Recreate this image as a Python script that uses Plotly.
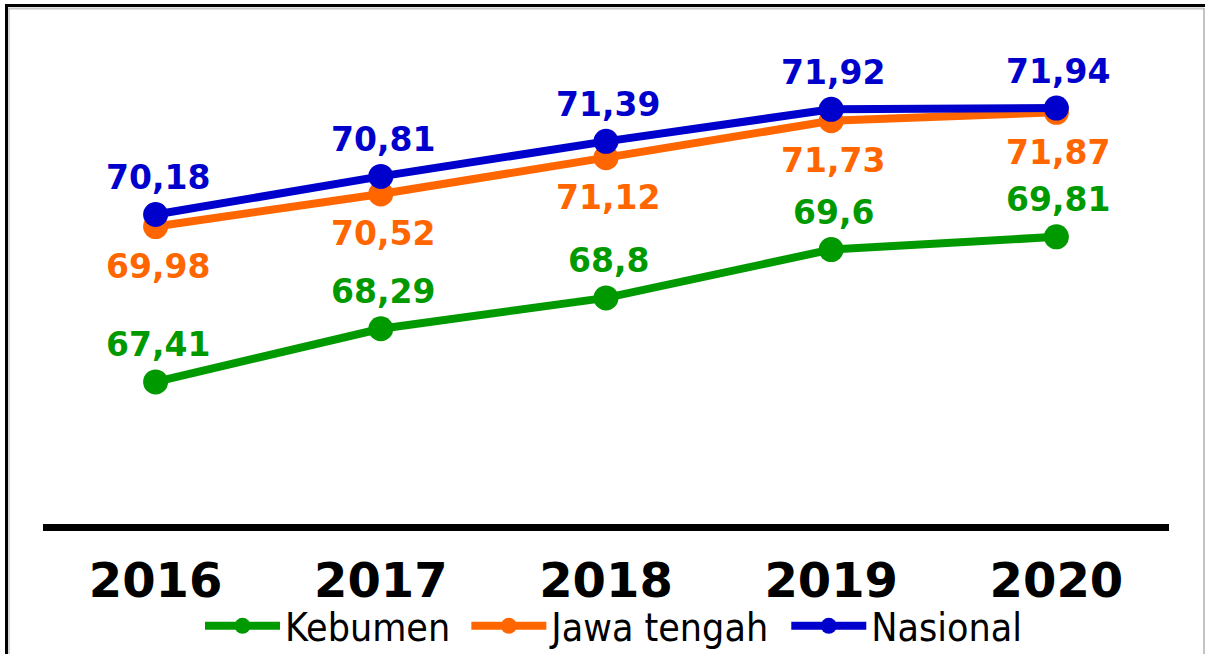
import plotly.graph_objects as go

years = ["2016", "2017", "2018", "2019", "2020"]
kebumen = [67.41, 68.29, 68.80, 69.60, 69.81]
jawa_tengah = [69.98, 70.52, 71.12, 71.73, 71.87]
nasional = [70.18, 70.81, 71.39, 71.92, 71.94]

series_names = ["Kebumen", "Jawa tengah", "Nasional"]
kebumen_labels = ["67,41", "68,29", "68,8", "69,6", "69,81"]
jawa_labels = ["69,98", "70,52", "71,12", "71,73", "71,87"]
nasional_labels = ["70,18", "70,81", "71,39", "71,92", "71,94"]

GREEN = "#009A00"
ORANGE = "#FF6600"
BLUE = "#0000CC"

W, H = 1205, 654
ML, MR, MT, MB = 43, 36, 44, 130
PW, PH = W - ML - MR, H - MT - MB

def px_x(x):
    return (x - ML) / PW

def px_y(y):
    return (H - MB - y) / PH

fig = go.Figure()
series = [
    (series_names[0], kebumen, GREEN),
    (series_names[1], jawa_tengah, ORANGE),
    (series_names[2], nasional, BLUE),
]
for k, (name, vals, col) in enumerate(series):
    # a non-breaking space widens the gap between legend entries
    legend_name = name + ("\u00a0" if k < len(series) - 1 else "")
    fig.add_trace(go.Scatter(
        x=years, y=vals, name=legend_name, mode="lines+markers",
        line=dict(color=col, width=8),
        marker=dict(color=col, size=25),
    ))

label_sets = [
    (kebumen, kebumen_labels, GREEN, 37),
    (jawa_tengah, jawa_labels, ORANGE, -40),
    (nasional, nasional_labels, BLUE, 37),
]
for vals, labs, col, shift in label_sets:
    for i, (v, t) in enumerate(zip(vals, labs)):
        fig.add_annotation(
            x=i, y=v, text=t, showarrow=False, xanchor="center", yanchor="middle",
            yshift=shift, xshift=2,
            font=dict(family="DejaVu Sans", size=33, color=col, weight="bold"),
        )

# outer frame
fig.add_shape(type="rect", xref="paper", yref="paper",
              x0=px_x(6.5), x1=px_x(1212), y0=px_y(5.5), y1=px_y(700),
              line=dict(color="black", width=3), layer="above")
fig.add_shape(type="line", xref="paper", yref="paper",
              x0=px_x(8), x1=px_x(1204), y0=px_y(8.5), y1=px_y(8.5),
              line=dict(color="#c8c8c8", width=2), layer="above")
fig.add_shape(type="line", xref="paper", yref="paper",
              x0=px_x(9), x1=px_x(9), y0=px_y(8), y1=px_y(660),
              line=dict(color="#c8c8c8", width=1.5), layer="above")
fig.add_shape(type="line", xref="paper", yref="paper",
              x0=px_x(1204), x1=px_x(1204), y0=px_y(8), y1=px_y(660),
              line=dict(color="#b0b0b0", width=1.5), layer="above")

fig.update_layout(
    width=W, height=H,
    margin=dict(l=ML, r=MR, t=MT, b=MB, autoexpand=False),
    paper_bgcolor="white", plot_bgcolor="white",
    showlegend=True,
    legend=dict(
        orientation="h", x=px_x(200), xanchor="left",
        y=px_y(626), yanchor="middle",
        font=dict(family="DejaVu Sans Condensed, DejaVu Sans", size=39, color="black"),
        itemwidth=75, bgcolor="rgba(0,0,0,0)",
    ),
)
fig.update_xaxes(
    type="category", range=[-0.5, 4.5],
    showline=True, linecolor="black", linewidth=7,
    showgrid=False, zeroline=False,
    ticks="", ticklabelstandoff=8,
    tickfont=dict(family="DejaVu Sans", size=48, color="black", weight="bold"),
)
fig.update_yaxes(
    range=[65.06, 73.0], visible=False, showgrid=False, zeroline=False,
)

fig.write_html("out.html", config={"displayModeBar": False},
               post_script="document.body.style.margin='0';")
